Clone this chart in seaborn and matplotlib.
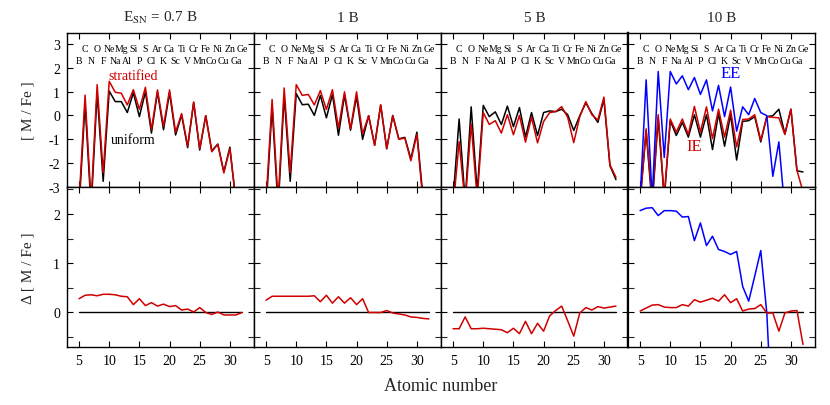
import numpy as np
import pandas as pd
import seaborn as sns
import matplotlib.pyplot as plt
from matplotlib.ticker import MultipleLocator

sns.set_theme(style="ticks")
plt.rcParams['font.family'] = ['Liberation Serif', 'DejaVu Serif']
plt.rcParams['mathtext.fontset'] = 'stix'
plt.rcParams['axes.unicode_minus'] = False

# ---------------- data ----------------
Z = list(range(5, 33))
elements = ["B", "C", "N", "O", "F", "Ne", "Na", "Mg", "Al", "Si", "P", "S", "Cl", "Ar",
            "K", "Ca", "Sc", "Ti", "V", "Cr", "Mn", "Fe", "Co", "Ni", "Cu", "Zn", "Ga", "Ge"]
titles = ["E$_{\\mathrm{SN}}$ = 0.7 B", "1 B", "5 B", "10 B"]

# [M/Fe], E_SN = 0.7 B
strat_07 = [-3.6, 0.85, -3.6, 1.29, -2.4, 1.43, 0.97, 0.93, 0.44, 1.08, 0.26, 1.18, -0.6, 1.07,
            -0.45, 1.07, -0.7, 0.08, -1.28, 0.56, -1.39, -0.01, -1.52, -1.21, -2.41, -1.39, -3.6, -3.8]
unif_07 = [-3.9, 0.5, -3.9, 0.95, -2.76, 1.02, 0.58, 0.58, 0.12, 0.95, -0.05, 0.99, -0.74, 0.98,
           -0.6, 0.95, -0.82, 0.02, -1.35, 0.55, -1.45, -0.01, -1.48, -1.2, -2.36, -1.33, -3.6, -3.8]
delta_07 = [0.28, 0.35, 0.36, 0.34, 0.37, 0.37, 0.36, 0.33, 0.32, 0.16, 0.28, 0.14, 0.2, 0.13,
            0.17, 0.12, 0.14, 0.05, 0.07, 0.01, 0.1, 0.0, -0.04, 0.01, -0.05, -0.05, -0.05, 0.0]

# E_SN = 1 B
strat_1 = [-3.6, 0.67, -3.6, 1.15, -2.4, 1.29, 0.84, 0.88, 0.44, 1.04, 0.25, 1.08, -0.53, 0.99,
           -0.56, 0.99, -0.76, -0.01, -1.25, 0.44, -1.39, -0.01, -1.0, -0.95, -1.9, -0.8, -3.6, -3.8]
unif_1 = [-3.9, 0.35, -3.9, 0.82, -2.76, 0.92, 0.45, 0.47, 0.0, 0.84, -0.1, 0.88, -0.83, 0.85,
          -0.62, 0.8, -1.0, -0.01, -1.25, 0.44, -1.4, 0.0, -0.98, -0.92, -1.82, -0.7, -3.4, -3.6]
delta_1 = [0.25, 0.33, 0.33, 0.33, 0.33, 0.33, 0.33, 0.33, 0.34, 0.22, 0.35, 0.19, 0.32, 0.19,
           0.3, 0.16, 0.28, 0.0, 0.0, 0.0, 0.04, -0.01, -0.03, -0.05, -0.09, -0.1, -0.12, -0.13]

# E_SN = 5 B
strat_5 = [-3.9, -1.1, -3.7, -0.36, -3.5, 0.12, -0.38, -0.22, -0.74, 0.03, -0.81, 0.0, -1.12, -0.08,
           -1.15, -0.26, 0.12, 0.16, 0.37, -0.08, -1.14, -0.05, 0.58, 0.03, -0.19, 0.77, -2.07, -2.59]
unif_5 = [-3.5, -0.15, -3.6, 0.36, -3.2, 0.42, -0.05, 0.15, -0.38, 0.39, -0.47, 0.33, -0.91, 0.12,
          -0.84, 0.12, 0.19, 0.16, 0.26, 0.03, -0.63, -0.01, 0.53, 0.08, -0.29, 0.67, -2.11, -2.69]
delta_5 = [-0.33, -0.33, -0.09, -0.33, -0.33, -0.32, -0.33, -0.34, -0.35, -0.41, -0.32, -0.43, -0.18, -0.43,
           -0.22, -0.38, -0.07, 0.04, 0.13, -0.17, -0.48, -0.01, 0.1, 0.05, 0.12, 0.09, 0.11, 0.13]

# E_SN = 10 B
ie_10 = [-3.6, -0.56, -3.6, 0.03, -3.4, -0.15, -0.7, -0.15, -0.8, 0.38, -0.7, 0.36, -0.97, 0.26,
         -0.91, 0.22, -1.32, -0.17, -0.15, 0.03, -1.04, -0.05, -0.08, -0.1, -0.8, 0.26, -2.3, -3.2]
unif_10 = [-3.6, -0.65, -3.8, -0.1, -3.5, -0.22, -0.84, -0.29, -0.91, 0.03, -0.91, 0.03, -1.43, 0.08,
           -1.29, 0.03, -1.87, -0.25, -0.22, -0.05, -1.11, -0.05, -0.01, 0.26, -0.77, 0.26, -2.32, -2.37]
ee_10 = [-3.5, 1.49, -3.5, 1.84, -1.76, 1.84, 1.32, 1.66, 1.08, 1.59, 0.88, 1.49, 0.19, 1.26,
         -0.05, 1.19, -0.66, 0.36, 0.03, 0.71, 0.12, -0.01, -2.55, -1.11, -4.0, -4.0, -4.0, -4.0]
delta_ie_10 = [0.03, 0.09, 0.15, 0.16, 0.11, 0.1, 0.1, 0.16, 0.13, 0.26, 0.21, 0.25, 0.29, 0.23,
               0.36, 0.2, 0.28, 0.03, 0.07, 0.08, 0.16, -0.01, -0.01, -0.38, -0.01, 0.03, 0.04, -0.65]
delta_ee_10 = [2.07, 2.12, 2.13, 1.97, 2.07, 2.07, 2.06, 1.94, 1.95, 1.46, 1.82, 1.36, 1.55, 1.28,
               1.24, 1.18, 1.24, 0.53, 0.23, 0.74, 1.26, -0.01, -2.5, -2.5, -2.5, -2.5, -2.5, -2.5]

RED = "#d00000"
BLUE = "#0000ff"
BLACK = "#000000"

top_series = [
    [(unif_07, BLACK), (strat_07, RED)],
    [(unif_1, BLACK), (strat_1, RED)],
    [(unif_5, BLACK), (strat_5, RED)],
    [(unif_10, BLACK), (ie_10, RED), (ee_10, BLUE)],
]
bot_series = [
    [(delta_07, RED)],
    [(delta_1, RED)],
    [(delta_5, RED)],
    [(delta_ee_10, BLUE), (delta_ie_10, RED)],
]

fig = plt.figure(figsize=(8.3, 4.06), dpi=100)
gs = fig.add_gridspec(2, 4, left=0.0807, right=0.982, top=0.916, bottom=0.143,
                      wspace=0, hspace=0, height_ratios=[154, 160])

LW = 1.1
for c in range(4):
    axt = fig.add_subplot(gs[0, c])
    axb = fig.add_subplot(gs[1, c])
    for vals, col in top_series[c]:
        sns.lineplot(x=Z, y=vals, ax=axt, color=col, lw=LW, estimator=None, sort=False)
    sns.lineplot(x=Z, y=np.zeros(len(Z)), ax=axb, color=BLACK, lw=1.0, estimator=None, sort=False)
    for vals, col in bot_series[c]:
        sns.lineplot(x=Z, y=vals, ax=axb, color=col, lw=LW, estimator=None, sort=False)

    axt.set_xlim(3, 34)
    axb.set_xlim(3, 34)
    axt.set_ylim(-3, 3.45)
    axb.set_ylim(-0.7, 2.55)
    for ax in (axt, axb):
        ax.set_xticks([5, 10, 15, 20, 25, 30])
        ax.tick_params(direction='in', top=True, right=True, length=4.5, width=0.8,
                       labelsize=10, colors='black', pad=5)
        ax.tick_params(which='minor', direction='in', top=False, right=True, length=4.5, width=0.8)
        for sp in ax.spines.values():
            sp.set_linewidth(1.0)
            sp.set_color('black')
        ax.set_xlabel("")
        ax.set_ylabel("")
    axt.set_yticks([-3, -2, -1, 0, 1, 2, 3])
    axb.set_yticks([0, 1, 2])
    axb.yaxis.set_minor_locator(MultipleLocator(0.5))
    axt.tick_params(labelbottom=False)
    if c > 0:
        axt.tick_params(labelleft=False)
        axb.tick_params(labelleft=False)
    if c == 2:
        axt.spines['right'].set_linewidth(1.6)
        axb.spines['right'].set_linewidth(1.6)
    if c == 3:
        axt.spines['left'].set_linewidth(1.6)
        axb.spines['left'].set_linewidth(1.6)

    # element labels
    for z, el in zip(Z, elements):
        yy = 2.8 if z % 2 == 0 else 2.3
        axt.text(z, yy, el, ha='center', va='center', fontsize=7, color='black')

    axt.set_title(titles[c], fontsize=11, pad=9)

    if c == 0:
        axt.set_ylabel("[ M / Fe ]", fontsize=11, labelpad=10)
        axb.set_ylabel("Δ [ M / Fe ]", fontsize=11, labelpad=10)
        axt.text(14, 1.66, "stratified", color=RED, ha='center', va='center', fontsize=10)
        axt.text(14, -1.0, "uniform", color=BLACK, ha='center', va='center', fontsize=10)
    if c == 3:
        axt.text(20, 1.77, "EE", color=BLUE, ha='center', va='center', fontsize=12)
        axt.text(14, -1.29, "IE", color=RED, ha='center', va='center', fontsize=12)

fig.text(0.531, 0.047, "Atomic number", ha='center', va='center', fontsize=13)
fig.align_ylabels()
fig.savefig("out.png", dpi=100)
